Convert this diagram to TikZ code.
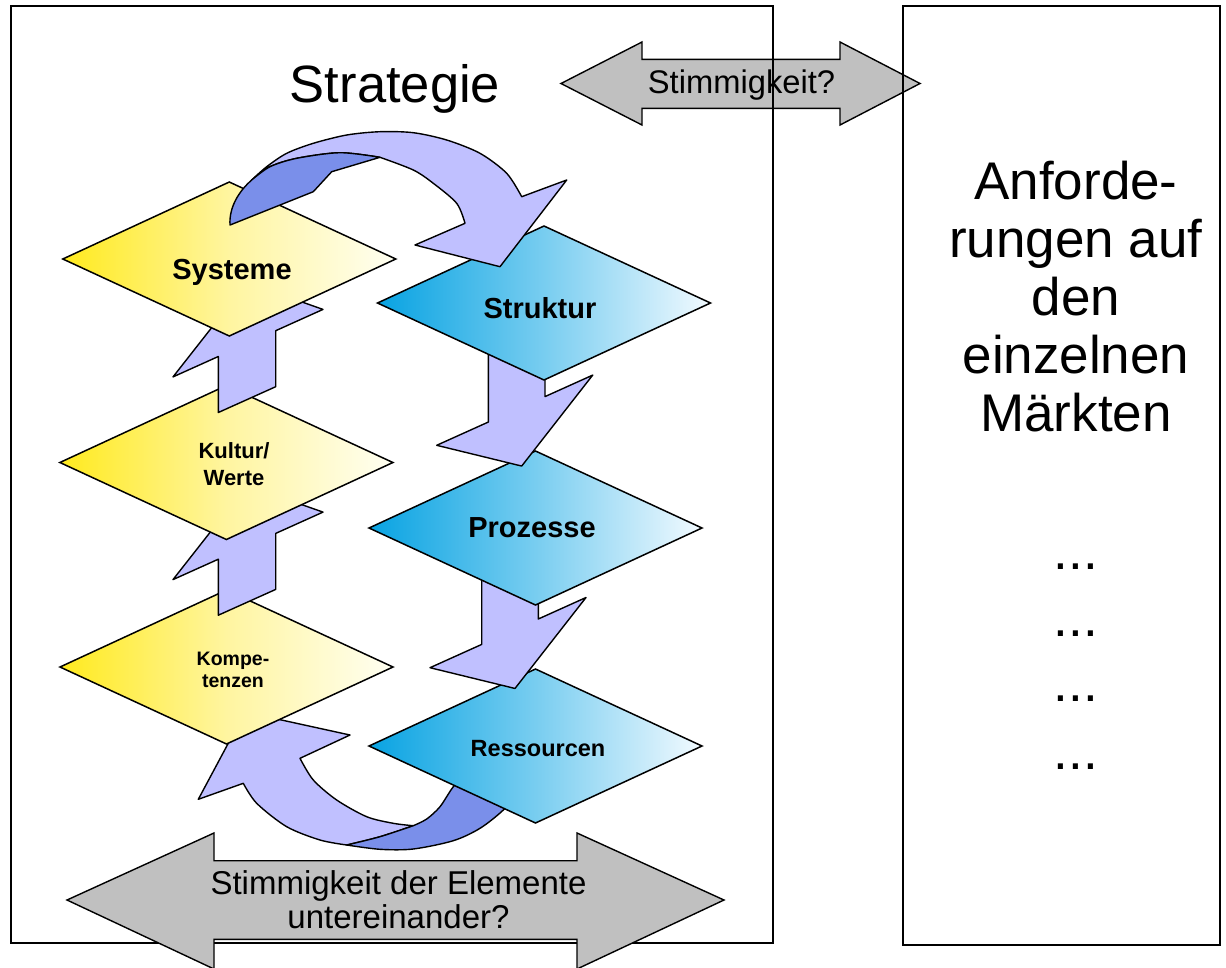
\documentclass[tikz,border=0pt]{standalone}
\usepackage{fontspec}
\setmainfont{Liberation Sans}
\usetikzlibrary{shapes.geometric}
\definecolor{lav}{RGB}{192,192,255}
\definecolor{lavd}{RGB}{122,143,234}
\definecolor{grayA}{RGB}{192,192,192}
\definecolor{yelA}{RGB}{255,234,30}
\definecolor{yelB}{RGB}{255,245,160}
\definecolor{yelC}{RGB}{255,255,242}
\definecolor{bluA}{RGB}{8,163,226}
\definecolor{bluB}{RGB}{120,205,240}
\definecolor{bluC}{RGB}{242,250,255}
\tikzset{
  dia/.style={diamond, draw=black, line width=1.5pt, minimum width=333pt, minimum height=154pt, inner sep=0pt, outer sep=0pt},
  yel/.style={left color=yelA, right color=yelC, middle color=yelB},
  blu/.style={left color=bluA, right color=bluC, middle color=bluB},
  lavarrow/.style={fill=lav, draw=black, line width=1.4pt, line join=round},
  darkarrow/.style={fill=lavd, draw=black, line width=1.4pt, line join=round},
  grayarrow/.style={fill=grayA, draw=black, line width=1.4pt, line join=miter},
  frame/.style={rectangle, draw=black, line width=1.9pt, inner sep=0pt, outer sep=0pt},
  lbl/.style={font=\bfseries, anchor=base, inner sep=0pt},
  txt/.style={anchor=base, inner sep=0pt},
  uparr/.pic={\draw[lavarrow] (-28.7,68.9) -- (28.7,43.1) -- (28.7,-12.9) -- (76,-34.2) -- (0,-61) -- (-74,33.3) -- (-28.7,12.9) -- cycle;},
  downarr/.pic={\draw[lavarrow] (-28.3,-67.3) -- (28.3,-92.7) -- (28.3,-12.7) -- (76,-34.2) -- (5,56.75) -- (-80,36) -- (-28.3,12.7) -- cycle;}
}
\begin{document}
\begin{tikzpicture}[x=1pt,y=-1pt]
\useasboundingbox (0,0) rectangle (1226,967);
% top gray arrow
\draw[grayarrow] (561,83.5) -- (642,42) -- (642,59.3) -- (840,59.3) -- (840,42) -- (920,83.5) -- (840,125) -- (840,108.3) -- (642,108.3) -- (642,125) -- cycle;
% frames
\node[frame, minimum width=762pt, minimum height=936.7pt] (leftbox) at (392,474.35) {};
\node[frame, minimum width=317pt, minimum height=939pt] (rightbox) at (1061.5,475.5) {};
\node[txt, font=\fontsize{32.7}{36}\selectfont] (stimm) at (741.5,93.5) {Stimmigkeit?};
\node[txt, font=\fontsize{52.5}{58}\selectfont] (strat) at (395,102) {Strategie};
% right box text
\begin{scope}[every node/.style={txt, font=\fontsize{53}{58}\selectfont}]
\node (r1) at (1076,199) {Anforde-};
\node (r2) at (1076,257) {rungen auf};
\node (r3) at (1076,315) {den};
\node (r4) at (1076,373) {einzelnen};
\node (r5) at (1076,431) {Märkten};
\node (d1) at (1076,569) {...};
\node (d2) at (1076,636) {...};
\node (d3) at (1076,701) {...};
\node (d4) at (1076,769) {...};
\end{scope}
% bottom curved arrow
\draw[lavarrow] plot[smooth] coordinates {(243.3,783.3) (256.7,803.3) (286.7,826.7) (320,840) (346.7,845)} -- plot[smooth] coordinates {(346.7,845) (380,836.7) (413.3,825.7)} -- plot[smooth] coordinates {(413.3,825.7) (393.3,823.3) (366.7,816.7) (336.7,800) (313.3,780) (300,758.3)} -- (350,735) -- (245,712) -- (198.3,799.3) -- cycle;
\draw[darkarrow] plot[smooth] coordinates {(346.7,845) (380,849.3) (413.3,849) (453.3,840.7) (480,828.3) (503.3,810) (520,790)} -- (470,768) -- plot[smooth] coordinates {(470,768) (453.3,786.7) (440,806.7) (426.7,819) (413.3,825.7)} -- plot[smooth] coordinates {(413.3,825.7) (380,836.7) (346.7,845)} -- cycle;
% lower diamonds
\node[dia, blu] (res) at (535.5,746) {};
\node[dia, yel] (kom) at (226.5,667) {};
\pic at (510,631.7) {downarr};
\pic at (247,546.3) {uparr};
% middle diamonds
\node[dia, blu] (pro) at (535.5,528) {};
\node[dia, yel] (kul) at (226.4,462.5) {};
\pic at (516.7,409.3) {downarr};
\pic at (247,343.6) {uparr};
% upper diamonds
\node[dia, blu] (str) at (544,303) {};
\node[dia, yel] (sys) at (229.3,259) {};
% top curved arrow
\draw[lavarrow] plot[smooth] coordinates {(251.7,180) (266.7,166.7) (286.7,153.3) (313.3,143.3) (346.7,135) (380,131.7) (413.3,132.7) (446.7,140) (480,153.3) (506.7,173.3) (521.7,196.7)} -- (566.7,180) -- (500,266.7) -- (415,245) -- (465,223.3) -- plot[smooth] coordinates {(465,223.3) (456.7,203.3) (433.3,183.3) (413.3,170) (380,157.3)} -- plot[smooth] coordinates {(380,157.3) (340,152.7) (296.7,158.3) (270,166.7) (251.7,180)} -- cycle;
\draw[darkarrow] (230,225) .. controls (229,208) and (238,192) .. (251.7,180) -- plot[smooth] coordinates {(251.7,180) (270,166.7) (296.7,158.3) (340,152.7) (380,157.3)} -- (331.7,171.7) -- (313.3,191.7) -- cycle;
% diamond labels
\node[lbl, font=\bfseries\fontsize{29}{32}\selectfont] (tsys) at (232,279) {Systeme};
\node[lbl, font=\bfseries\fontsize{29}{32}\selectfont] (tstr) at (540,318) {Struktur};
\node[lbl, font=\bfseries\fontsize{29}{32}\selectfont] (tpro) at (532,537) {Prozesse};
\node[lbl, font=\bfseries\fontsize{23.5}{26}\selectfont] (tres) at (538,756) {Ressourcen};
\node[lbl, font=\bfseries\fontsize{22}{26}\selectfont] (tkul1) at (234,458) {Kultur/};
\node[lbl, font=\bfseries\fontsize{22}{26}\selectfont] (tkul2) at (234,485) {Werte};
\node[lbl, font=\bfseries\fontsize{19.5}{22}\selectfont] (tkom1) at (233,665) {Kompe-};
\node[lbl, font=\bfseries\fontsize{19.5}{22}\selectfont] (tkom2) at (233,687) {tenzen};
% bottom gray arrow
\draw[grayarrow] (67,900) -- (214,833) -- (214,860.7) -- (577,860.7) -- (577,833) -- (724,900) -- (577,969) -- (577,939.3) -- (214,939.3) -- (214,969) -- cycle;
\node[txt, font=\fontsize{33}{36}\selectfont] (b1) at (398.5,894) {Stimmigkeit der Elemente};
\node[txt, font=\fontsize{33}{36}\selectfont] (b2) at (398.5,928) {untereinander?};
\end{tikzpicture}
\end{document}
